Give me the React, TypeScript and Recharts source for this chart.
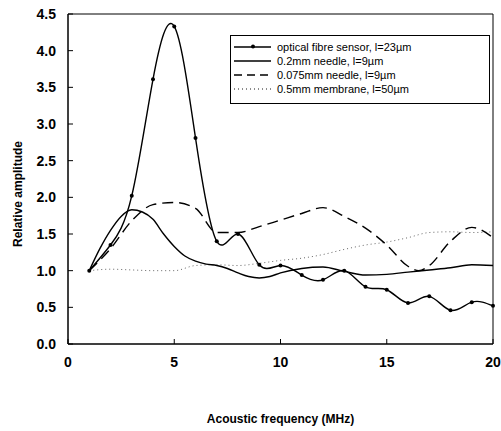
import { LineChart, Line, XAxis, YAxis, ReferenceArea, Legend } from "recharts";

const FONT = '"Liberation Sans", Arial, Helvetica, sans-serif';

// frequency in MHz
const frequencies = [1, 2, 3, 4, 5, 6, 7, 8, 9, 10, 11, 12, 13, 14, 15, 16, 17, 18, 19, 20];
const fibreSensor = [1.0, 1.35, 2.02, 3.61, 4.33, 2.81, 1.4, 1.5, 1.08, 1.07, 0.94, 0.875, 1.0, 0.78, 0.74, 0.56, 0.65, 0.46, 0.57, 0.52];

const needleFrequencies = [1, 1.5, 2, 2.5, 3, 3.5, 4, 4.5, 5, 5.5, 6, 6.5, 7, 7.5, 8, 8.5, 9, 9.5, 10, 11, 12, 13, 14, 15, 16, 17, 18, 19, 20];
const needle02 = [1.0, 1.3, 1.55, 1.74, 1.83, 1.8, 1.7, 1.5, 1.33, 1.2, 1.13, 1.09, 1.07, 1.03, 0.97, 0.92, 0.9, 0.92, 0.97, 1.03, 1.05, 0.99, 0.94, 0.95, 0.98, 1.01, 1.04, 1.08, 1.07];

const needle075Frequencies = [1, 2, 3, 4, 5, 6, 7, 8, 9, 10, 11, 12, 13, 14, 15, 16, 16.5, 17, 18, 19, 20];
const needle075 = [1.0, 1.3, 1.68, 1.9, 1.93, 1.85, 1.52, 1.52, 1.6, 1.69, 1.78, 1.86, 1.74, 1.58, 1.35, 1.06, 1.0, 1.07, 1.4, 1.59, 1.45];

const membrane = [1.0, 1.02, 1.01, 1.0, 1.0, 1.07, 1.08, 1.07, 1.1, 1.14, 1.17, 1.22, 1.29, 1.35, 1.39, 1.45, 1.52, 1.53, 1.52, 1.53];

const xTicks = [0, 5, 10, 15, 20];
const yTicks = [0, 0.5, 1, 1.5, 2, 2.5, 3, 3.5, 4, 4.5];

const legendItems = [
  { name: "optical fibre sensor, l=23\u00b5m", dash: undefined as string | undefined, dot: true, color: "#000" },
  { name: "0.2mm needle, l=9\u00b5m", dash: undefined, dot: false, color: "#000" },
  { name: "0.075mm needle, l=9\u00b5m", dash: "8 5", dot: false, color: "#000" },
  { name: "0.5mm membrane, l=50\u00b5m", dash: "1 3", dot: false, color: "#666" },
];

function LegendBox() {
  return (
    <div
      style={{
        border: "1px solid #000",
        background: "#fff",
        width: 256,
        padding: "4px 0 7px 2px",
        fontFamily: FONT,
        fontSize: 11,
        color: "#000",
      }}
    >
      {legendItems.map((item) => (
        <div key={item.name} style={{ display: "flex", alignItems: "center", height: 14 }}>
          <svg width={40} height={10} style={{ marginRight: 4 }}>
            <line x1={1} y1={5} x2={38} y2={5} stroke={item.color} strokeWidth={1.3} strokeDasharray={item.dash} />
            {item.dot && <circle cx={20} cy={4.5} r={2} fill="#000" />}
          </svg>
          <span>{item.name}</span>
        </div>
      ))}
    </div>
  );
}

export default function App() {
  const fibreData = frequencies.map((f, i) => ({ f, v: fibreSensor[i] }));
  const needle02Data = needleFrequencies.map((f, i) => ({ f, v: needle02[i] }));
  const needle075Data = needle075Frequencies.map((f, i) => ({ f, v: needle075[i] }));
  const membraneData = frequencies.map((f, i) => ({ f, v: membrane[i] }));

  const tickStyle = { fill: "#000", fontSize: 14, fontWeight: "bold" as const, fontFamily: FONT };

  return (
    <div style={{ position: "absolute", left: 0, top: 0, width: 501, height: 431, background: "#fff", fontFamily: FONT }}>
      <LineChart width={501} height={431} margin={{ top: 14, right: 8, bottom: 57, left: 0 }}>
        <XAxis
          type="number"
          dataKey="f"
          domain={[0, 20]}
          ticks={xTicks}
          tickSize={-5}
          tickMargin={18}
          axisLine={{ stroke: "#000" }}
          tickLine={{ stroke: "#000" }}
          tick={tickStyle}
          allowDuplicatedCategory={false}
        />
        <YAxis
          type="number"
          domain={[0, 4.5]}
          ticks={yTicks}
          width={68}
          tickSize={-5}
          tickMargin={17}
          axisLine={{ stroke: "#000" }}
          tickLine={{ stroke: "#000" }}
          tick={tickStyle}
          tickFormatter={(v: number) => v.toFixed(1)}
        />
        <ReferenceArea x1={0} x2={20} y1={0} y2={4.5} fill="none" stroke="#000" ifOverflow="visible" />
        <Legend
          layout="vertical"
          align="center"
          verticalAlign="middle"
          content={() => <LegendBox />}
          wrapperStyle={{ position: "absolute", left: 230, top: 35, width: 258 }}
        />
        <Line
          data={membraneData}
          dataKey="v"
          type="monotone"
          stroke="#666"
          strokeWidth={1}
          strokeDasharray="1 3"
          dot={false}
          isAnimationActive={false}
        />
        <Line
          data={needle075Data}
          dataKey="v"
          type="monotone"
          stroke="#000"
          strokeWidth={1.4}
          strokeDasharray="11 6"
          dot={false}
          isAnimationActive={false}
        />
        <Line
          data={needle02Data}
          dataKey="v"
          type="monotone"
          stroke="#000"
          strokeWidth={1.4}
          dot={false}
          isAnimationActive={false}
        />
        <Line
          data={fibreData}
          dataKey="v"
          type="natural"
          stroke="#000"
          strokeWidth={1.4}
          dot={{ r: 2, fill: "#000", stroke: "#000", strokeWidth: 0 }}
          isAnimationActive={false}
        />
      </LineChart>
      <div
        style={{
          position: "absolute",
          left: 80,
          top: 412,
          width: 401,
          textAlign: "center",
          fontSize: 12,
          fontWeight: "bold",
          lineHeight: "14px",
        }}
      >
        Acoustic frequency (MHz)
      </div>
      <div
        style={{
          position: "absolute",
          left: 18 - 100,
          top: 194 - 7,
          width: 200,
          textAlign: "center",
          fontSize: 12,
          fontWeight: "bold",
          lineHeight: "14px",
          transform: "rotate(-90deg)",
        }}
      >
        Relative amplitude
      </div>
    </div>
  );
}
